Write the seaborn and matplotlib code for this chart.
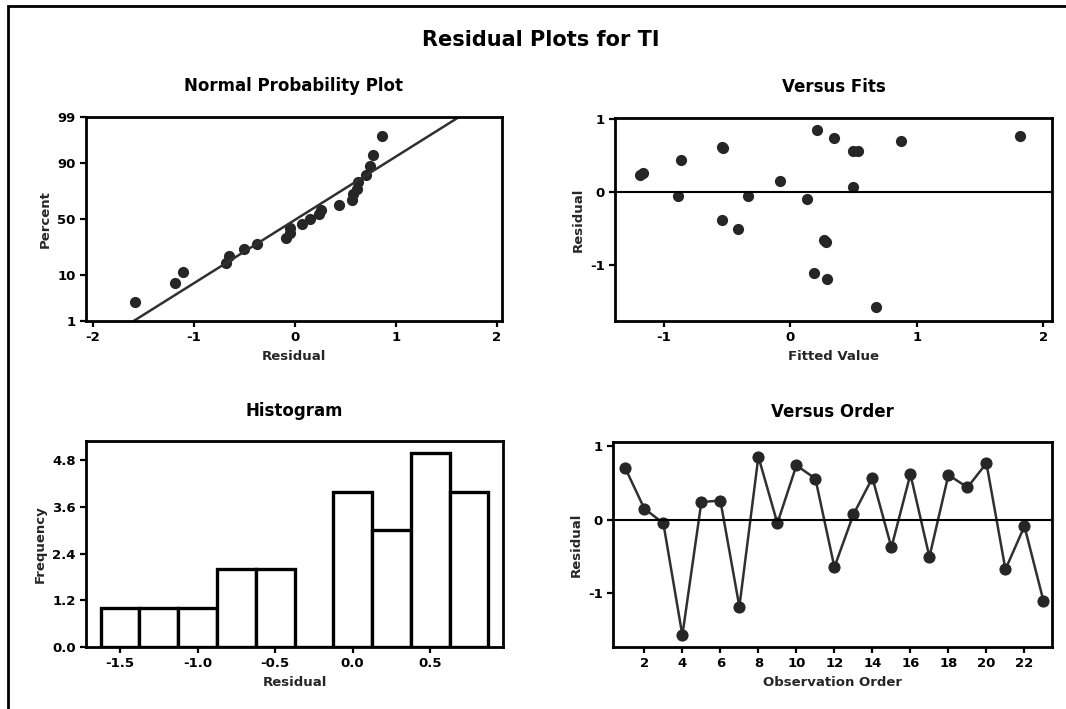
import numpy as np
import pandas as pd
import matplotlib
matplotlib.use("Agg")
import matplotlib.pyplot as plt
from matplotlib.patches import Rectangle
from matplotlib.ticker import FormatStrFormatter
import seaborn as sns
from statistics import NormalDist

# ---- data ----
observation = list(range(1, 24))
residuals = [0.70, 0.15, -0.05, -1.58, 0.24, 0.26, -1.19, 0.86, -0.05, 0.74,
             0.56, -0.65, 0.07, 0.57, -0.38, 0.62, -0.51, 0.61, 0.44, 0.77,
             -0.68, -0.09, -1.11]
fitted = [0.88, -0.08, -0.89, 0.68, -1.19, -1.16, 0.29, 0.21, -0.33, 0.35,
          0.50, 0.27, 0.50, 0.54, -0.54, -0.54, -0.41, -0.53, -0.86, 1.82,
          0.28, 0.13, 0.19]
percent_ticks = [1, 10, 50, 90, 99]
hist_bin_edges = [-1.625, -1.375, -1.125, -0.875, -0.625, -0.375, -0.125,
                  0.125, 0.375, 0.625, 0.875]
hist_yticks = [0.0, 1.2, 2.4, 3.6, 4.8]
hist_xticks = [-1.5, -1.0, -0.5, 0.0, 0.5]
order_xticks = list(range(2, 23, 2))

df = pd.DataFrame({"Observation": observation, "Residual": residuals, "Fitted": fitted})

sns.set_style("ticks")
plt.rcParams.update({
    "font.family": ["DejaVu Sans"],
    "font.weight": "bold",
    "axes.labelweight": "bold",
    "axes.titleweight": "bold",
    "axes.unicode_minus": False,
    "axes.linewidth": 2.0,
    "xtick.major.width": 1.6,
    "ytick.major.width": 1.6,
    "xtick.major.size": 4,
    "ytick.major.size": 4,
    "xtick.direction": "out",
    "ytick.direction": "out",
    "xtick.labelsize": 9.5,
    "ytick.labelsize": 9.5,
    "axes.labelsize": 9.5,
    "axes.titlesize": 12,
    "axes.edgecolor": "black",
    "xtick.color": "black",
    "ytick.color": "black",
    "text.color": "black",
})

W, H = 1066, 709
fig = plt.figure(figsize=(W / 100, H / 100), dpi=100)

def box(l, t, r, b):
    return [l / W, 1 - b / H, (r - l) / W, (b - t) / H]

ax1 = fig.add_axes(box(86, 117, 502, 321))
ax2 = fig.add_axes(box(615, 118, 1052, 321))
ax3 = fig.add_axes(box(86, 441, 503, 647))
ax4 = fig.add_axes(box(613, 442, 1052, 647))

dot = "#262626"
nd = NormalDist()

# ---- Normal probability plot ----
n = len(residuals)
sorted_res = np.sort(np.array(residuals))
pp = [(i - 0.3) / (n + 0.4) for i in range(1, n + 1)]
zq = [nd.inv_cdf(p) for p in pp]
mu = float(np.mean(residuals))
sd = float(np.std(residuals, ddof=1))
zlo, zhi = nd.inv_cdf(0.01), nd.inv_cdf(0.99)
zline = np.linspace(zlo, zhi, 50)
line_df = pd.DataFrame({"x": mu + sd * zline, "z": zline})
sns.lineplot(data=line_df, x="x", y="z", ax=ax1, color="#303030", lw=1.8)
sns.scatterplot(x=sorted_res, y=zq, ax=ax1, color=dot, s=65, edgecolor=dot, linewidth=0)
ax1.set_ylim(zlo, zhi)
ax1.set_xlim(-2.07, 2.05)
ax1.set_yticks([nd.inv_cdf(p / 100) for p in percent_ticks])
ax1.set_yticklabels([str(p) for p in percent_ticks])
ax1.set_xticks([-2, -1, 0, 1, 2])
ax1.set_xlabel("Residual")
ax1.set_ylabel("Percent")
ax1.set_title("Normal Probability Plot", pad=19)

# ---- Versus fits ----
sns.scatterplot(data=df, x="Fitted", y="Residual", ax=ax2, color=dot, s=65,
                edgecolor=dot, linewidth=0)
ax2.axhline(0, color="black", lw=1.5)
ax2.set_xlim(-1.385, 2.07)
ax2.set_ylim(-1.77, 1.02)
ax2.set_xticks([-1, 0, 1, 2])
ax2.set_yticks([-1, 0, 1])
ax2.set_xlabel("Fitted Value")
ax2.set_ylabel("Residual")
ax2.set_title("Versus Fits", pad=19)

# ---- Histogram ----
sns.histplot(data=df, x="Residual", bins=hist_bin_edges, ax=ax3, color="white",
             edgecolor="black", linewidth=2.4, alpha=1)
ax3.set_xlim(-1.72, 0.97)
ax3.set_ylim(0, 5.3)
ax3.set_yticks(hist_yticks)
ax3.set_xticks(hist_xticks)
ax3.yaxis.set_major_formatter(FormatStrFormatter("%.1f"))
ax3.xaxis.set_major_formatter(FormatStrFormatter("%.1f"))
ax3.set_xlabel("Residual")
ax3.set_ylabel("Frequency")
ax3.set_title("Histogram", pad=18)

# ---- Versus order ----
sns.lineplot(data=df, x="Observation", y="Residual", ax=ax4, color="#303030",
             lw=1.8, marker="o", markersize=8, markeredgecolor=dot,
             markerfacecolor=dot)
ax4.axhline(0, color="black", lw=1.5)
ax4.set_xlim(0.35, 23.45)
ax4.set_ylim(-1.74, 1.06)
ax4.set_xticks(order_xticks)
ax4.set_yticks([-1, 0, 1])
ax4.set_xlabel("Observation Order")
ax4.set_ylabel("Residual")
ax4.set_title("Versus Order", pad=18)

for ax in (ax1, ax2, ax3, ax4):
    for s in ax.spines.values():
        s.set_visible(True)
        s.set_linewidth(2.0)
    ax.tick_params(top=False, right=False)

fig.text(541 / W, 1 - 40 / H, "Residual Plots for TI", ha="center", va="center",
         fontsize=15, fontweight="bold")

fig.add_artist(Rectangle((8 / W, -0.2), 1.2, 1 - 6 / H + 0.2,
                         transform=fig.transFigure, fill=False,
                         edgecolor="black", lw=2.0))

fig.savefig("out.png", dpi=100)
